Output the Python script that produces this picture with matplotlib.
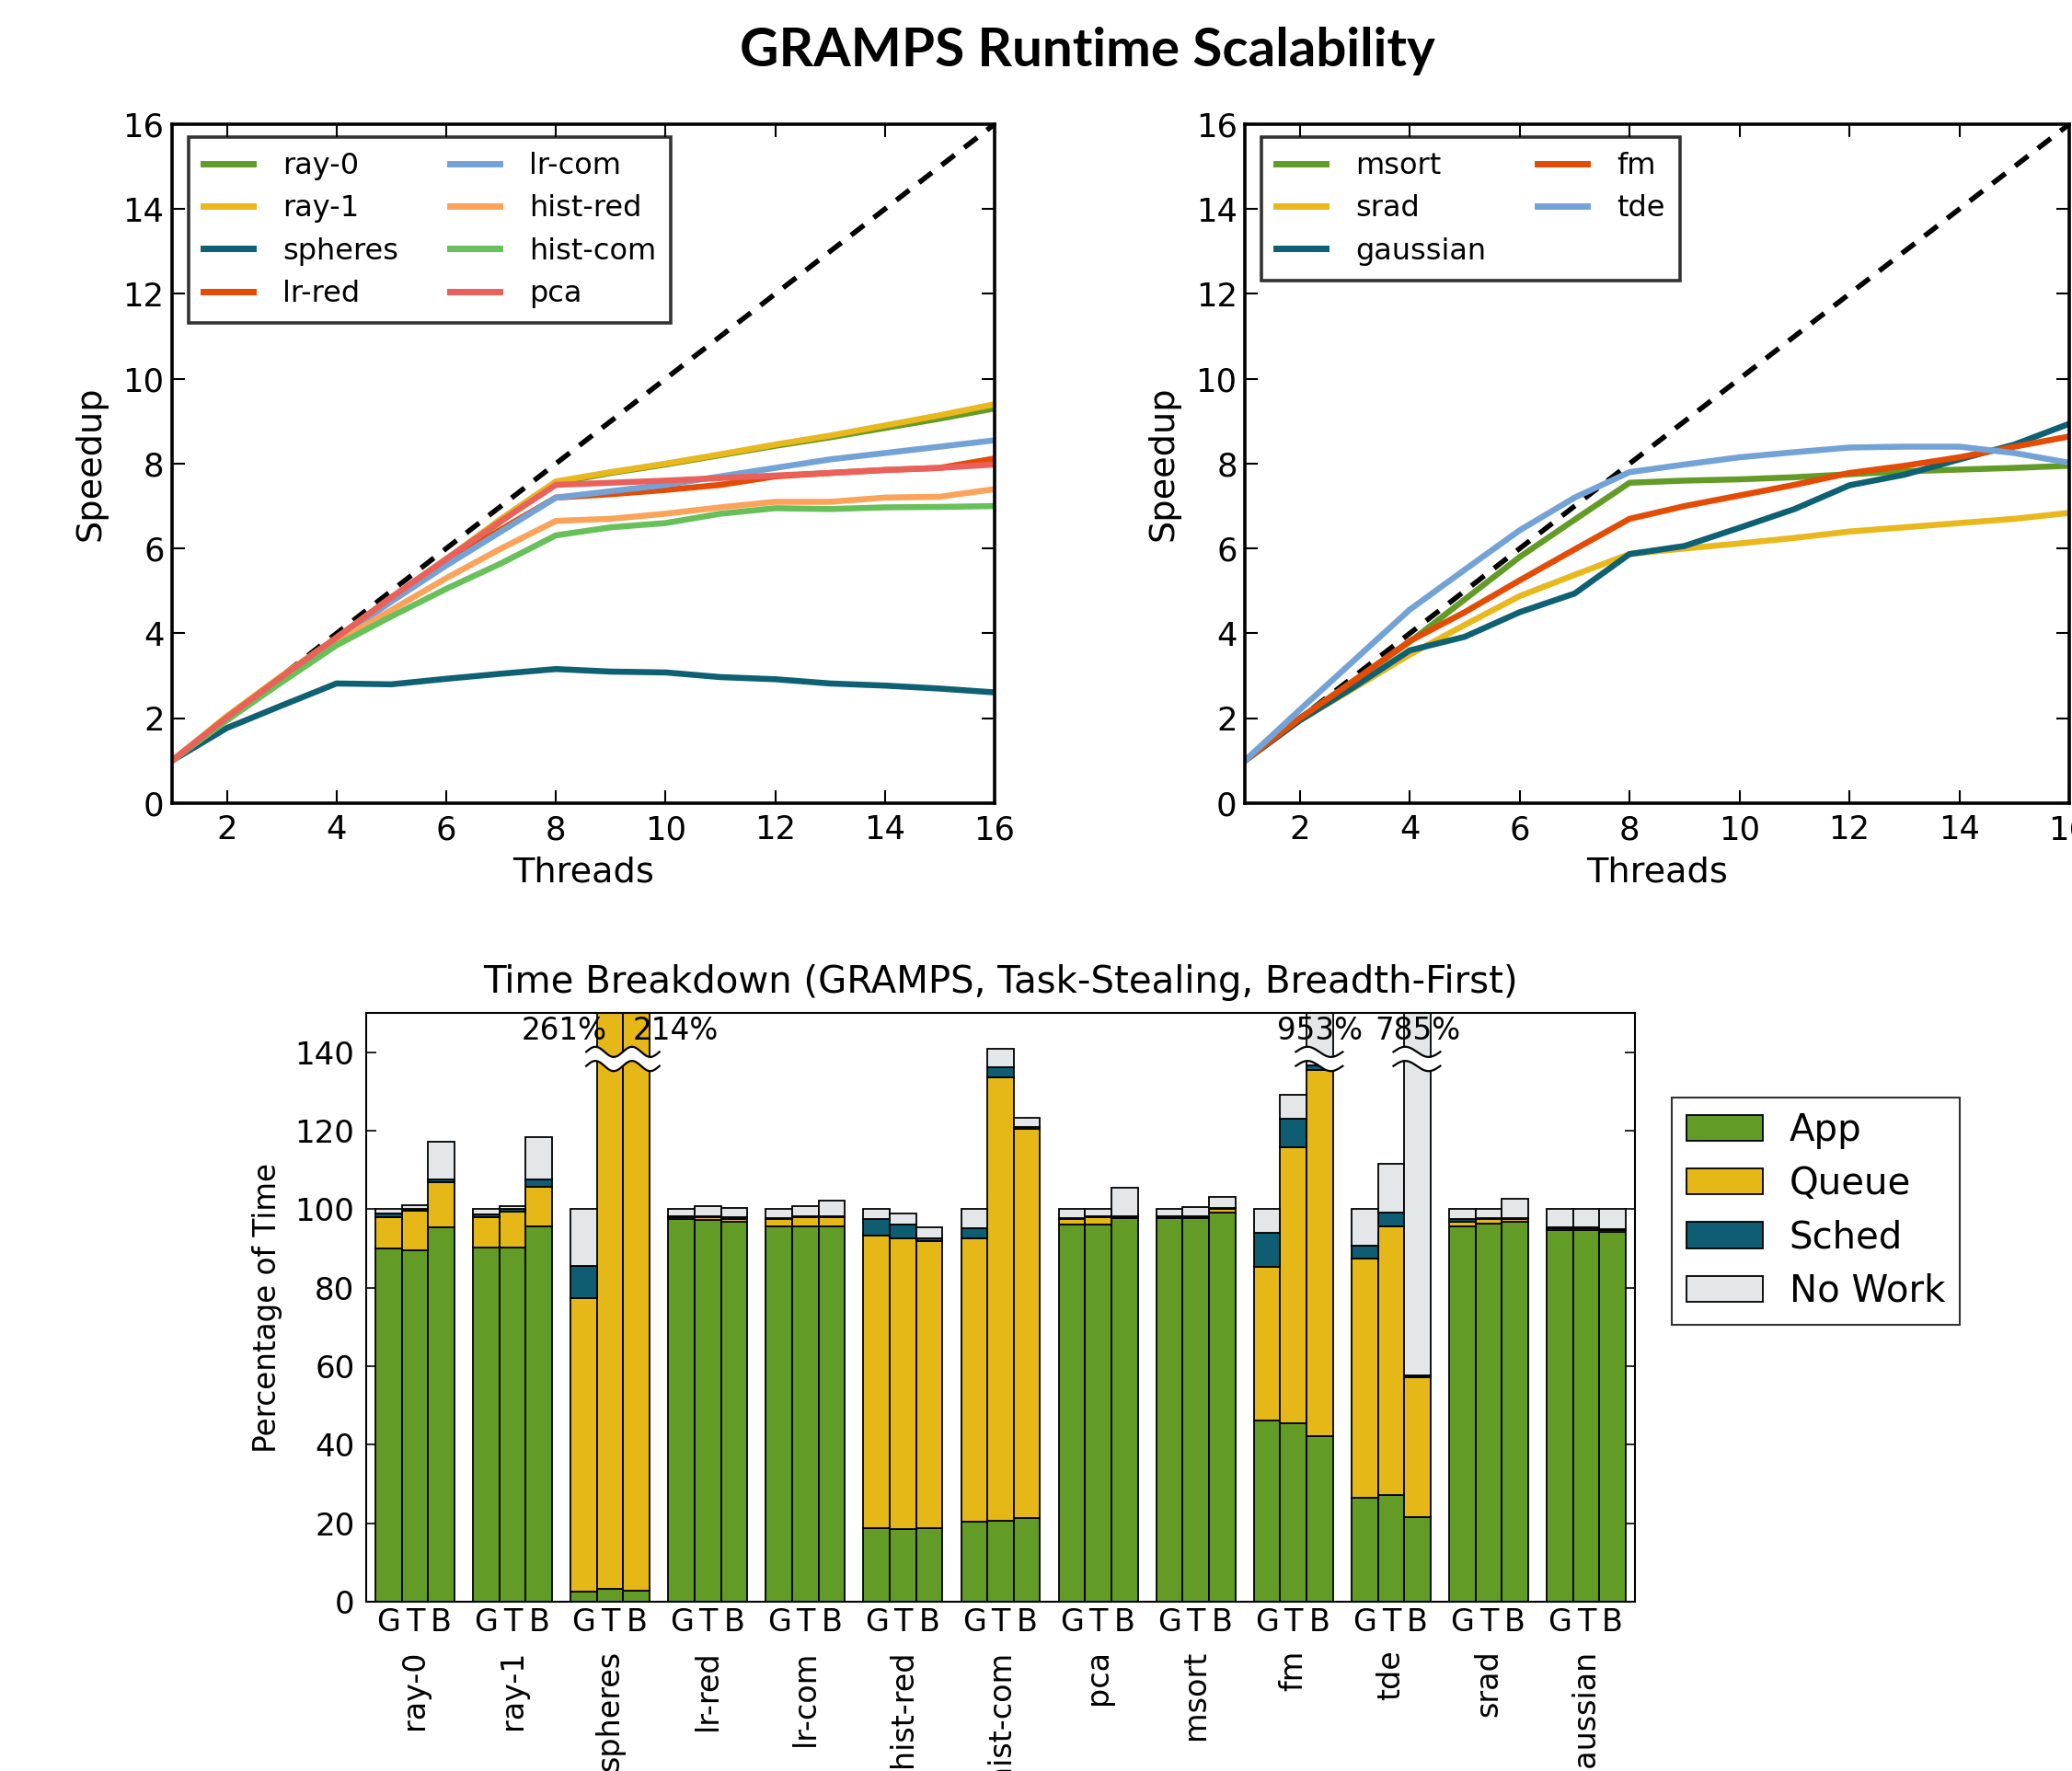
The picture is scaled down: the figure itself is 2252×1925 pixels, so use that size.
import numpy as np
import matplotlib
matplotlib.use("Agg")
import matplotlib.pyplot as plt
from matplotlib import transforms

plt.rcParams["font.family"] = "DejaVu Sans"

# ============================
# data
# ============================
threads = list(range(1, 17))

# left panel
left_names = ["ray-0", "ray-1", "spheres", "lr-red", "lr-com", "hist-red", "hist-com", "pca"]
ray0 = [1.0, 2.02, 2.95, 3.88, 4.8, 5.72, 6.64, 7.55, 7.78, 7.98, 8.2, 8.42, 8.62, 8.84, 9.06, 9.3]
ray1 = [1.0, 2.05, 3.0, 3.9, 4.85, 5.75, 6.7, 7.58, 7.8, 8.0, 8.22, 8.45, 8.66, 8.9, 9.14, 9.4]
spheres = [1.0, 1.77, 2.3, 2.82, 2.8, 2.93, 3.05, 3.16, 3.1, 3.08, 2.97, 2.92, 2.82, 2.77, 2.7, 2.61]
lr_red = [1.0, 2.0, 2.95, 3.9, 4.8, 5.65, 6.45, 7.2, 7.28, 7.38, 7.5, 7.7, 7.78, 7.85, 7.9, 8.12]
lr_com = [1.0, 2.0, 2.95, 3.85, 4.75, 5.6, 6.4, 7.2, 7.35, 7.5, 7.7, 7.9, 8.1, 8.25, 8.4, 8.55]
hist_red = [1.0, 2.0, 2.9, 3.8, 4.55, 5.3, 6.0, 6.65, 6.7, 6.82, 6.97, 7.1, 7.1, 7.2, 7.22, 7.4]
hist_com = [1.0, 1.95, 2.85, 3.72, 4.4, 5.05, 5.65, 6.31, 6.5, 6.6, 6.82, 6.95, 6.93, 6.97, 6.98, 7.0]
pca = [1.0, 2.02, 2.98, 3.9, 4.85, 5.75, 6.65, 7.5, 7.55, 7.6, 7.66, 7.72, 7.78, 7.85, 7.9, 7.98]
left_colors = ["#639B28", "#E8B81C", "#0E6073", "#E44B04",
               "#73A3D6", "#FBA35A", "#68C05A", "#EA615C"]

# right panel
right_names = ["msort", "srad", "gaussian", "fm", "tde"]
msort = [1.0, 2.0, 2.9, 3.8, 4.8, 5.8, 6.68, 7.55, 7.6, 7.63, 7.68, 7.75, 7.82, 7.86, 7.9, 7.95]
srad = [1.0, 1.95, 2.72, 3.5, 4.2, 4.88, 5.38, 5.87, 6.0, 6.12, 6.25, 6.4, 6.5, 6.6, 6.7, 6.84]
gaussian = [1.0, 1.95, 2.75, 3.6, 3.92, 4.5, 4.94, 5.87, 6.06, 6.49, 6.93, 7.49, 7.74, 8.1, 8.45, 8.94]
fm = [1.0, 2.0, 2.9, 3.82, 4.5, 5.25, 5.98, 6.7, 7.0, 7.25, 7.5, 7.78, 7.95, 8.15, 8.4, 8.64]
tde = [1.0, 2.2, 3.38, 4.56, 5.5, 6.43, 7.2, 7.8, 7.98, 8.15, 8.27, 8.38, 8.4, 8.4, 8.25, 8.02]
right_colors = ["#639B28", "#E8B81C", "#0E6073", "#E44B04", "#73A3D6"]

# time breakdown, 3 bars (G, T, B) per benchmark
groups = ["ray-0", "ray-1", "spheres", "lr-red", "lr-com", "hist-red", "hist-com",
          "pca", "msort", "fm", "tde", "srad", "gaussian"]
modes = ["G", "T", "B"]
app = [90.0, 89.5, 95.5,
       90.2, 90.2, 95.7,
       2.6, 3.2, 2.9,
       97.5, 97.3, 96.8,
       95.7, 95.7, 95.7,
       18.7, 18.4, 18.7,
       20.3, 20.7, 21.3,
       96.2, 96.2, 97.7,
       97.7, 97.7, 99.1,
       46.2, 45.4, 42.2,
       26.4, 27.2, 21.6,
       95.7, 96.3, 96.9,
       94.8, 94.8, 94.3]
queue = [7.9, 10.2, 11.4,
         7.7, 9.2, 10.0,
         74.8, 257.8, 211.1,
         0.4, 0.6, 0.8,
         1.7, 2.2, 2.2,
         74.7, 74.1, 73.3,
         72.2, 113.0, 99.2,
         1.3, 1.7, 0.3,
         0.2, 0.2, 0.9,
         39.2, 70.3, 93.2,
         61.0, 68.5, 35.5,
         1.2, 1.1, 0.5,
         0.4, 0.4, 0.5]
sched = [1.0, 0.5, 0.6,
         0.8, 0.8, 1.8,
         8.2, 0.0, 0.0,
         0.2, 0.3, 0.3,
         0.3, 0.3, 0.3,
         4.0, 3.7, 0.5,
         2.6, 2.5, 0.5,
         0.2, 0.2, 0.2,
         0.2, 0.2, 0.3,
         8.6, 7.3, 1.2,
         3.4, 3.5, 0.6,
         0.6, 0.3, 0.3,
         0.2, 0.2, 0.2]
nowork = [1.1, 0.8, 9.8,
          1.3, 0.5, 10.8,
          14.4, 0.0, 0.0,
          1.9, 2.5, 2.4,
          2.3, 2.5, 4.0,
          2.6, 2.8, 3.0,
          4.9, 4.7, 2.4,
          2.3, 1.9, 7.3,
          1.9, 2.4, 2.9,
          6.0, 6.2, 816.4,
          9.2, 12.3, 727.3,
          2.5, 2.3, 5.0,
          4.6, 4.6, 5.0]
part_names = ["App", "Queue", "Sched", "No Work"]
part_colors = ["#629B26", "#E5B818", "#0E5D72", "#E3E7E9"]


# ============================
# figure
# ============================
fig = plt.figure(figsize=(22.52, 19.25), dpi=100)

fig.text(0.525, 0.9714, "GRAMPS Runtime Scalability", ha="center", va="center",
         fontsize=42, fontweight="bold", family=["Lato", "DejaVu Sans"])


def speedup_panel(rect, series, names, colors):
    ax = fig.add_axes(rect)
    ax.plot([1, 16], [1, 16], color="black", linestyle="--", dashes=(3.2, 2.4),
            linewidth=4, zorder=1)
    for vals, name, color in zip(series, names, colors):
        ax.plot(threads, vals, color=color, linewidth=4.7, label=name, zorder=2)
    ax.set_xlim(1, 16)
    ax.set_ylim(0, 16)
    ax.set_xticks(range(2, 17, 2))
    ax.set_yticks(range(0, 17, 2))
    ax.tick_params(direction="in", length=10, width=1.5, top=True, right=True,
                   labelsize=25.5)
    ax.tick_params(axis="x", pad=9)
    ax.tick_params(axis="y", pad=6)
    for sp in ax.spines.values():
        sp.set_linewidth(2.6)
    ax.set_xlabel("Threads", fontsize=27.5, labelpad=8)
    ax.set_ylabel("Speedup", fontsize=27.5, labelpad=12)
    leg = ax.legend(loc="upper left", bbox_to_anchor=(0.02, 0.981), ncol=2,
                    fontsize=23, frameon=True, fancybox=False, borderaxespad=0,
                    handlelength=1.7, handletextpad=1.0, columnspacing=1.75,
                    labelspacing=0.48, borderpad=0.5)
    leg.get_frame().set_edgecolor("black")
    leg.get_frame().set_linewidth(2.6)
    for line in leg.get_lines():
        line.set_linewidth(5)
    return ax


speedup_panel([0.0830, 0.5465, 0.3970, 0.3834],
              [ray0, ray1, spheres, lr_red, lr_com, hist_red, hist_com, pca],
              left_names, left_colors)
speedup_panel([0.6008, 0.5465, 0.3979, 0.3834],
              [msort, srad, gaussian, fm, tde],
              right_names, right_colors)

# ---------------- time breakdown ----------------
ax = fig.add_axes([0.1767, 0.0956, 0.6124, 0.3324])
width = 0.27
xs = np.array([g + 0.5 + (m - 1) * width for g in range(len(groups)) for m in range(3)])
bottom = np.zeros(len(xs))
for vals, name, color in zip([app, queue, sched, nowork], part_names, part_colors):
    vals = np.asarray(vals)
    ax.bar(xs, vals, width, bottom=bottom, color=color, edgecolor="black",
           linewidth=1.3, label=name, zorder=2)
    bottom = bottom + vals
totals = bottom

ymax = 150
ax.set_xlim(0, len(groups))
ax.set_ylim(0, ymax)
ax.set_yticks(range(0, 141, 20))
ax.set_xticks(xs)
ax.set_xticklabels(modes * len(groups))
ax.tick_params(axis="x", length=0, pad=4, labelsize=24)
ax.tick_params(axis="y", direction="in", length=8, width=1.2, right=True,
               labelsize=24.5, pad=9)
for sp in ax.spines.values():
    sp.set_linewidth(1.5)
ax.set_ylabel("Percentage of Time", fontsize=23.5, labelpad=10)
ax.set_title("Time Breakdown (GRAMPS, Task-Stealing, Breadth-First)",
             fontsize=29, pad=16)

# benchmark names under the G/T/B labels
trans = transforms.blended_transform_factory(ax.transData, ax.transAxes)
for g, name in enumerate(groups):
    ax.text(g + 0.5, -0.082, name, rotation=90, ha="center", va="top",
            fontsize=24, transform=trans, clip_on=False)

# broken bars that go off the top
over = [i for i in range(len(xs)) if totals[i] > ymax]
runs = []
for i in over:
    if runs and runs[-1][-1] == i - 1:
        runs[-1].append(i)
    else:
        runs.append([i])

y_break, amp, gap = 138.3, 1.3, 1.8
for run in runs:
    x0 = xs[run[0]] - width / 2 - 0.11
    x1 = xs[run[-1]] + width / 2 + 0.1
    xx = np.linspace(x0, x1, 300)
    s = amp * np.sin(2 * np.pi * len(run) * (xx - x0) / (x1 - x0))
    ax.fill_between(xx, y_break - gap + s, y_break + gap + s, color="white",
                    linewidth=0, zorder=5)
    ax.plot(xx, y_break + gap + s, color="black", linewidth=1.6, zorder=6)
    ax.plot(xx, y_break - gap + s, color="black", linewidth=1.6, zorder=6)
    if len(run) == 1:
        ax.text(xs[run[0]], 145.5, f"{totals[run[0]]:.0f}%", ha="center",
                va="center", fontsize=23.5, zorder=7)
    else:
        ax.text(xs[run[0]] - 0.035, 145.5, f"{totals[run[0]]:.0f}%", ha="right",
                va="center", fontsize=23.5, zorder=7)
        ax.text(xs[run[-1]] - 0.035, 145.5, f"{totals[run[-1]]:.0f}%", ha="left",
                va="center", fontsize=23.5, zorder=7)

leg = ax.legend(loc="upper left", bbox_to_anchor=(1.029, 0.856), borderaxespad=0,
                fontsize=29, fancybox=False, handlelength=2.05, handleheight=0.7,
                handletextpad=0.72, labelspacing=0.45, borderpad=0.4)
leg.get_frame().set_edgecolor("black")
leg.get_frame().set_linewidth(1.5)

fig.savefig("out.png", dpi=100)
